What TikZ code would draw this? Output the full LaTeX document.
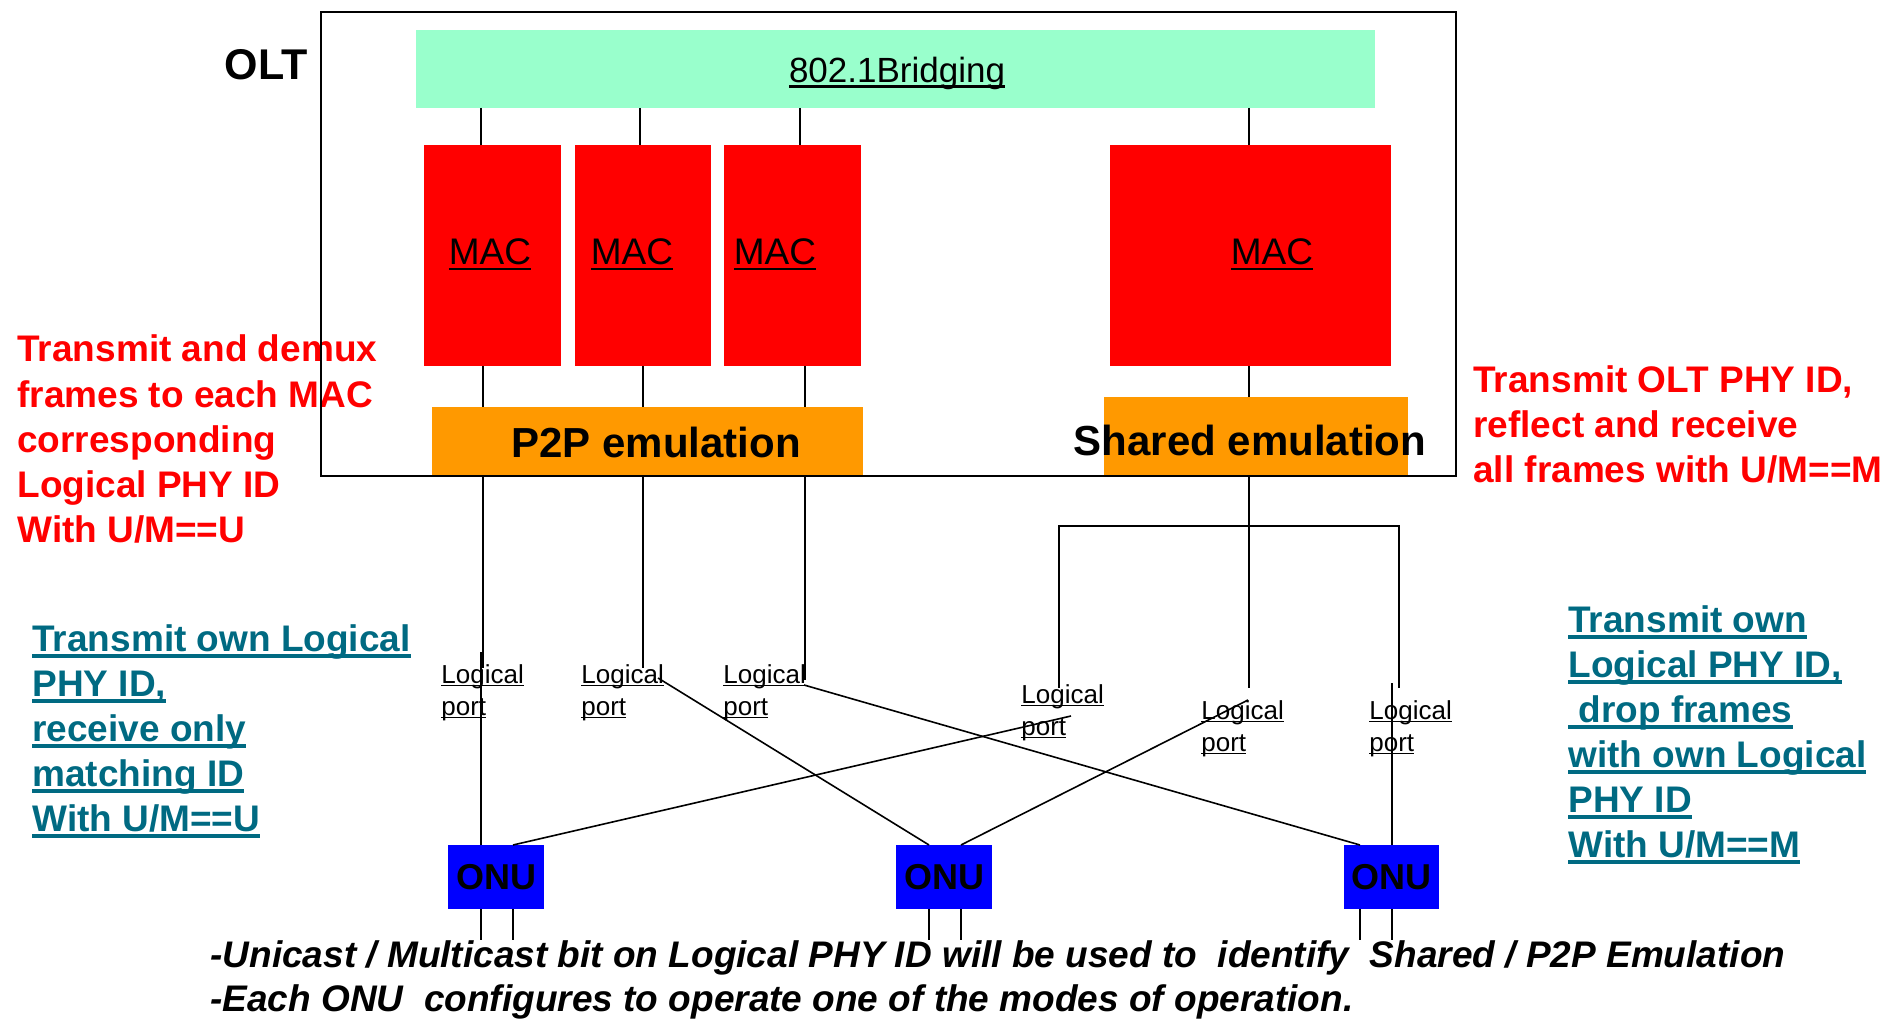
\documentclass[tikz,border=0pt]{standalone}
\usepackage{fontspec}
\setmainfont{Liberation Sans}

\definecolor{bridgegreen}{HTML}{99FFCC}
\definecolor{macred}{HTML}{FF0000}
\definecolor{emuorange}{HTML}{FF9900}
\definecolor{onublue}{HTML}{0000FF}
\definecolor{noteteal}{RGB}{0,106,130}

% font size helper: size and baseline skip in pt
\newcommand\fsz[2]{\fontsize{#1}{#2}\selectfont}
% underlines that sit at a fixed depth below the baseline
\newcommand\ulthick[1]{\setbox0\hbox{#1}\rlap{\rule[-0.18em]{\wd0}{0.1em}}\box0}
\newcommand\ulmid[1]{\setbox0\hbox{#1}\rlap{\rule[-0.14em]{\wd0}{0.07em}}\box0}
\newcommand\ulthin[1]{\setbox0\hbox{#1}\rlap{\rule[-0.13em]{\wd0}{0.06em}}\box0}

\begin{document}
\begin{tikzpicture}[x=0.5pt,y=-0.5pt,
  box/.style={rectangle, inner sep=0pt, outer sep=0pt},
  wire/.style={line width=0.8pt, black},
  % multi-line blocks are placed by the baseline of their last line
  redtxt/.style={inner sep=0pt, anchor=base west, align=left, text=macred,
                 font=\fsz{18.5}{22.5}\bfseries},
  tealtxt/.style={inner sep=0pt, anchor=base west, align=left, text=noteteal,
                  font=\fsz{18.5}{22.5}\bfseries},
  porttxt/.style={inner sep=0pt, anchor=base west, align=left,
                  font=\fsz{13}{16}},
  mactxt/.style={inner sep=0pt, anchor=base, font=\fsz{18.5}{22}},
  emutxt/.style={inner sep=0pt, anchor=base, font=\fsz{21}{25}\bfseries},
  onubox/.style={box, fill=onublue, minimum height=32pt,
                 font=\fsz{18}{21}\bfseries},
]
\useasboundingbox (0,0) rectangle (1885,1021);

% x positions of the vertical links
\coordinate (c1) at (481,0);
\coordinate (c2) at (640,0);
\coordinate (c3) at (800,0);
\coordinate (c4) at (1249,0);
\coordinate (d1) at (483,0);
\coordinate (d2) at (643,0);
\coordinate (d3) at (805,0);

% side notes
\node[redtxt] (noteL) at (17,542) {Transmit and demux\\frames to each MAC\\corresponding\\Logical PHY ID\\With U/M==U};
\node[redtxt] (noteR) at (1473,482) {Transmit OLT PHY ID,\\reflect and receive\\all frames with U/M==M};
\node[tealtxt] (onuL) at (32,831) {\ulthick{Transmit own Logical}\\\ulthick{PHY ID,}\\\ulthick{receive only}\\\ulthick{matching ID}\\\ulthick{With U/M==U}};
\node[tealtxt] (onuR) at (1568,857) {\ulthick{Transmit own}\\\ulthick{Logical PHY ID,}\\\ulthick{\ drop frames}\\\ulthick{with own Logical}\\\ulthick{PHY ID}\\\ulthick{With U/M==M}};

% OLT internals
\node[inner sep=0pt, anchor=base, font=\fsz{21.5}{26}\bfseries] (oltlbl) at (266,80) {OLT};
\node[box, fill=bridgegreen, minimum width=479.5pt, minimum height=39pt] (bridge) at (895.5,69) {};
\node[mactxt, font=\fsz{17.5}{21}] (bridgetxt) at (897,83) {\ulmid{802.1Bridging}};

\node[box, fill=macred, minimum width=68.5pt, minimum height=110.5pt] (mac1) at (492.5,255.5) {};
\node[box, fill=macred, minimum width=68pt,   minimum height=110.5pt] (mac2) at (643,255.5) {};
\node[box, fill=macred, minimum width=68.5pt, minimum height=110.5pt] (mac3) at (792.5,255.5) {};
\node[box, fill=macred, minimum width=140.5pt, minimum height=110.5pt] (mac4) at (1250.5,255.5) {};
\node[mactxt] (mac1txt) at (490,265) {\ulmid{MAC}};
\node[mactxt] (mac2txt) at (632,265) {\ulmid{MAC}};
\node[mactxt] (mac3txt) at (775,265) {\ulmid{MAC}};
\node[mactxt] (mac4txt) at (1272,265) {\ulmid{MAC}};

\node[box, fill=emuorange, minimum width=215.5pt, minimum height=34.5pt] (p2p) at (647.5,441.5) {};
\node[box, fill=emuorange, minimum width=152pt, minimum height=39.5pt] (shared) at (1256,436.5) {};
\node[emutxt] (p2ptxt) at (656,458) {P2P emulation};
\node[emutxt] (sharedtxt) at (1250,456) {Shared emulation};

% bridge to MACs, MACs to emulation
\foreach \m/\c in {mac1/c1, mac2/c2, mac3/c3, mac4/c4}
  \draw[wire] (bridge.south -| \c) -- (\m.north -| \c);
\draw[wire] (mac1.south -| d1) -- (p2p.north -| d1);
\draw[wire] (mac2.south -| d2) -- (p2p.north -| d2);
\draw[wire] (mac3.south -| d3) -- (p2p.north -| d3);
\draw[wire] (mac4.south -| c4) -- (shared.north -| c4);

% logical ports
\node[porttxt] (lp1) at (441,715) {\ulthin{Logical}\\\ulthin{port}};
\node[porttxt] (lp2) at (581,715) {\ulthin{Logical}\\\ulthin{port}};
\node[porttxt] (lp3) at (723,715) {\ulthin{Logical}\\\ulthin{port}};
\node[porttxt] (lp4) at (1021,735) {\ulthin{Logical}\\\ulthin{port}};
\node[porttxt] (lp5) at (1201,751) {\ulthin{Logical}\\\ulthin{port}};
\node[porttxt] (lp6) at (1369,751) {\ulthin{Logical}\\\ulthin{port}};

% ONUs
\node[onubox, minimum width=48pt] (onu1) at (496,877) {ONU};
\node[onubox, minimum width=48pt] (onu2) at (944,877) {ONU};
\node[onubox, minimum width=47.5pt] (onu3) at (1391.5,877) {ONU};

% port ends of the links
\coordinate (t1) at (483,668);
\coordinate (t2) at (643,668);
\coordinate (t3) at (805,680);
\coordinate (t4) at (1059,688);
\coordinate (t5) at (1249,688);
\coordinate (t6) at (1399,688);
\coordinate (busR) at (1399,526);
\coordinate (u1) at (481,652);
\coordinate (u2) at (658,678);
\coordinate (u3) at (804,685);
\coordinate (u4) at (1071,716);
\coordinate (u5) at (1248,700);
\coordinate (u6) at (1392,683);
% attachment columns on the ONUs
\coordinate (o1a) at (481,0);
\coordinate (o1b) at (513,0);
\coordinate (o2a) at (929,0);
\coordinate (o2b) at (961,0);
\coordinate (o3a) at (1360,0);
\coordinate (o3b) at (1392,0);

% emulation to logical ports
\draw[wire] (p2p.south -| d1) -- (t1);
\draw[wire] (p2p.south -| d2) -- (t2);
\draw[wire] (p2p.south -| d3) -- (t3);
\draw[wire] (shared.south -| c4) -- (t5);
\draw[wire] (t4) |- (busR) -- (t6);

% ONUs to logical ports
\draw[wire] (onu1.north -| o1a) -- (u1);
\draw[wire] (onu1.north -| o1b) -- (u4);
\draw[wire] (onu2.north -| o2a) -- (u2);
\draw[wire] (onu2.north -| o2b) -- (u5);
\draw[wire] (onu3.north -| o3a) -- (u3);
\draw[wire] (onu3.north -| o3b) -- (u6);

% ONU stubs below
\foreach \o/\c in {onu1/o1a, onu1/o1b, onu2/o2a, onu2/o2b, onu3/o3a, onu3/o3b}
  \draw[wire] (\o.south -| \c) -- ++(0,31);

% footnote
\node[inner sep=0pt, anchor=base west, align=left, font=\fsz{18.5}{22}\bfseries\itshape] (foot) at (210,1011)
  {-Unicast / Multicast bit on Logical PHY ID will be used to~ identify~ Shared / P2P Emulation\\-Each ONU~ configures to operate one of the modes of operation.};

% OLT frame on top
\node[box, draw, line width=1.2pt, minimum width=567.5pt, minimum height=232pt] (olt) at (888.5,244) {};
\end{tikzpicture}
\end{document}
